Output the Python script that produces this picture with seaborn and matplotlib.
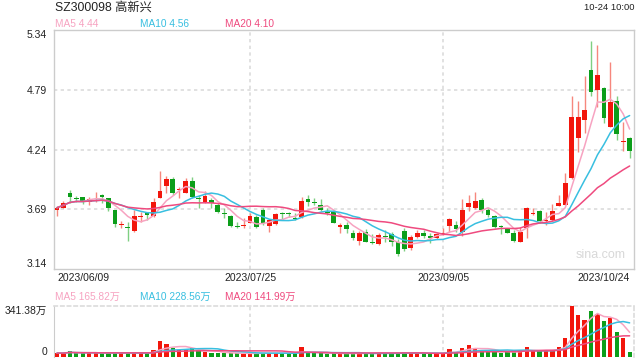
import numpy as np
import pandas as pd
import matplotlib
matplotlib.use("Agg")
import matplotlib.pyplot as plt
import seaborn as sns

# daily OHLC + volume (万), 2023/06/09 .. 2023/10/24
opens = [3.683, 3.704, 3.836, 3.796, 3.799, 3.753, 3.789, 3.818, 3.793, 3.683,
         3.547, 3.529, 3.492, 3.617, 3.652, 3.627, 3.796, 3.904, 3.968, 3.869,
         3.842, 3.950, 3.790, 3.756, 3.775, 3.729, 3.658, 3.627, 3.535, 3.540,
         3.566, 3.615, 3.683, 3.538, 3.554, 3.652, 3.649, 3.612, 3.615, 3.781,
         3.757, 3.726, 3.667, 3.667, 3.529, 3.545, 3.474, 3.400, 3.483, 3.391,
         3.370, 3.443, 3.462, 3.391, 3.492, 3.330, 3.437, 3.474, 3.443, 3.422,
         3.464, 3.535, 3.545, 3.477, 3.713, 3.704, 3.775, 3.683, 3.630, 3.535,
         3.505, 3.474, 3.391, 3.520, 3.648, 3.673, 3.586, 3.591, 3.722, 3.729,
         3.974, 4.349, 4.511, 4.972, 4.788, 4.809, 4.450, 4.689, 4.308, 4.342]
closes = [3.704, 3.750, 3.805, 3.788, 3.759, 3.784, 3.797, 3.799, 3.698, 3.551,
          3.555, 3.518, 3.627, 3.625, 3.635, 3.756, 3.858, 3.968, 3.842, 3.877,
          3.950, 3.799, 3.782, 3.811, 3.744, 3.667, 3.648, 3.538, 3.529, 3.549,
          3.627, 3.529, 3.560, 3.591, 3.646, 3.645, 3.642, 3.600, 3.765, 3.753,
          3.748, 3.683, 3.660, 3.566, 3.545, 3.505, 3.428, 3.474, 3.391, 3.378,
          3.452, 3.433, 3.391, 3.277, 3.320, 3.431, 3.474, 3.443, 3.422, 3.462,
          3.472, 3.600, 3.508, 3.683, 3.750, 3.765, 3.683, 3.637, 3.529, 3.530,
          3.474, 3.400, 3.483, 3.704, 3.656, 3.581, 3.595, 3.673, 3.744, 3.928,
          4.542, 4.542, 4.603, 4.772, 4.926, 4.533, 4.680, 4.382, 4.316, 4.229]
highs = [3.719, 3.765, 3.867, 3.815, 3.805, 3.805, 3.851, 3.830, 3.795, 3.685,
         3.584, 3.569, 3.683, 3.667, 3.667, 3.790, 4.042, 3.996, 3.983, 3.891,
         3.974, 3.983, 3.821, 3.861, 3.796, 3.744, 3.698, 3.637, 3.575, 3.606,
         3.652, 3.637, 3.698, 3.597, 3.658, 3.667, 3.667, 3.652, 3.805, 3.821,
         3.790, 3.781, 3.698, 3.676, 3.566, 3.572, 3.498, 3.492, 3.505, 3.462,
         3.474, 3.498, 3.483, 3.412, 3.514, 3.452, 3.498, 3.498, 3.468, 3.468,
         3.514, 3.606, 3.581, 3.781, 3.821, 3.845, 3.790, 3.698, 3.637, 3.544,
         3.514, 3.498, 3.529, 3.713, 3.698, 3.683, 3.667, 3.738, 3.821, 4.026,
         4.732, 4.686, 4.916, 5.239, 5.202, 4.818, 5.048, 4.732, 4.496, 4.352]
lows = [3.627, 3.698, 3.750, 3.759, 3.735, 3.729, 3.759, 3.750, 3.676, 3.523,
        3.514, 3.400, 3.483, 3.575, 3.591, 3.615, 3.790, 3.836, 3.821, 3.796,
        3.836, 3.790, 3.698, 3.744, 3.704, 3.652, 3.606, 3.529, 3.514, 3.514,
        3.560, 3.514, 3.545, 3.483, 3.545, 3.591, 3.621, 3.591, 3.606, 3.722,
        3.729, 3.673, 3.637, 3.560, 3.468, 3.474, 3.406, 3.360, 3.385, 3.370,
        3.360, 3.391, 3.351, 3.259, 3.308, 3.314, 3.422, 3.422, 3.382, 3.412,
        3.452, 3.483, 3.483, 3.443, 3.676, 3.689, 3.652, 3.621, 3.514, 3.462,
        3.468, 3.391, 3.385, 3.422, 3.637, 3.566, 3.544, 3.584, 3.719, 3.725,
        3.970, 4.220, 4.395, 4.735, 4.628, 4.481, 4.445, 4.327, 4.229, 4.158]
volumes = [26, 26, 40, 26, 26, 27, 28, 25, 26, 30,
           25, 28, 30, 25, 26, 48, 108, 89, 58, 46,
           50, 62, 44, 33, 27, 27, 26, 27, 24, 22,
           23, 26, 29, 26, 27, 27, 20, 26, 64, 33,
           27, 25, 22, 24, 23, 24, 22, 26, 26, 21,
           28, 24, 25, 28, 31, 28, 24, 22, 23, 26,
           24, 55, 36, 62, 78, 55, 50, 34, 32, 30,
           35, 35, 45, 70, 42, 40, 45, 43, 70, 124,
           341.38, 280, 245, 305, 285, 240, 258, 170, 125, 36]

price_ticks = [3.14, 3.69, 4.24, 4.79, 5.34]
date_labels = ["2023/06/09", "2023/07/25", "2023/09/05", "2023/10/24"]
date_pos = [0, 30, 60, 89]
title = "SZ300098 高新兴"
stamp = "10-24 10:00"
ma_text = ["MA5 4.44", "MA10 4.56", "MA20 4.10"]
vma_text = ["MA5 165.82万", "MA10 228.56万", "MA20 141.99万"]

RED, GREEN = "#f2160c", "#0c9e1a"
RED_W, GREEN_W = "#f6877d", "#7fcf82"
MA_COLORS = ["#f7a3c1", "#38bfe0", "#ef4a7f"]
GRID = "#dcdcdc"

sns.set_style("white")
plt.rcParams["font.family"] = ["Liberation Sans", "Noto Sans CJK SC"]

df = pd.DataFrame({"open": opens, "high": highs, "low": lows,
                   "close": closes, "vol": volumes})
df["idx"] = np.arange(len(df))
up = df["close"] >= df["open"]
for n in (5, 10, 20):
    df[f"ma{n}"] = df["close"].rolling(n, min_periods=1).mean()
    df[f"vma{n}"] = df["vol"].rolling(n, min_periods=1).mean()

fig = plt.figure(figsize=(6.4, 3.6), dpi=100)
ax = fig.add_axes([54 / 640, 1 - 269 / 360, 580 / 640, 239 / 360])
axv = fig.add_axes([54 / 640, 1 - 357 / 360, 580 / 640, 51 / 360])
xlim = (-0.47, 89.68)

# candles
ax.vlines(df["idx"], df["low"], df["high"],
          colors=np.where(up, RED_W, GREEN_W), lw=1, zorder=2)
body_h = (df["close"] - df["open"]).abs().clip(lower=0.009)
ax.bar(df["idx"], body_h, bottom=df[["open", "close"]].min(axis=1),
       width=0.74, color=np.where(up, RED, GREEN), lw=0, zorder=3)
for n, c in zip((5, 10, 20), MA_COLORS):
    sns.lineplot(data=df, x="idx", y=f"ma{n}", ax=ax, color=c, lw=1.1, zorder=4)

ax.set_xlim(*xlim)
ax.set_ylim(3.14, 5.34)
ax.set_yticks(price_ticks)
ax.set_yticklabels([f"{t:.2f}" for t in price_ticks])
ylabs = ax.get_yticklabels()
ylabs[0].set_va("bottom")
ylabs[-1].set_va("top")
ax.set_xticks(date_pos)
ax.set_xticklabels(date_labels)
xlabs = ax.get_xticklabels()
xlabs[0].set_ha("left")
xlabs[-1].set_ha("right")
ax.tick_params(axis="y", length=3, color="#555", labelsize=7.5, pad=2, labelcolor="#222")
ax.tick_params(axis="x", length=0, labelsize=7.5, pad=3, labelcolor="#222")
for t in price_ticks[1:-1]:
    ax.axhline(t, color=GRID, lw=1.2, ls=(0, (2, 2)), zorder=1)
for p in date_pos[1:3]:
    ax.axvline(p, color=GRID, lw=1.2, ls=(0, (2, 2)), zorder=1)
for s in ax.spines.values():
    s.set_color("#cccccc")
    s.set_linewidth(1)
ax.set_xlabel("")
ax.set_ylabel("")
ax.text(0.985, 0.035, "sina.com", transform=ax.transAxes, ha="right", va="bottom",
        fontsize=9, color="#d8d8d8")

# volume
axv.bar(df["idx"], df["vol"], width=0.66, color=np.where(up, RED, GREEN), lw=0, zorder=3)
for n, c in zip((5, 10, 20), MA_COLORS):
    sns.lineplot(data=df, x="idx", y=f"vma{n}", ax=axv, color=c, lw=1.1, zorder=4)
axv.set_xlim(*xlim)
axv.set_ylim(0, 341.38)
axv.set_yticks([0, 341.38])
axv.set_yticklabels(["0", "341.38万"])
vlabs = axv.get_yticklabels()
vlabs[0].set_va("bottom")
vlabs[1].set_va("top")
axv.tick_params(axis="y", length=3, color="#555", labelsize=7.5, pad=2, labelcolor="#222")
axv.set_xticks([])
for p in date_pos[1:3]:
    axv.axvline(p, color=GRID, lw=1.2, ls=(0, (2, 2)), zorder=1)
axv.spines["left"].set_color("#cccccc")
axv.spines["bottom"].set_visible(False)
for k in ("top", "right"):
    axv.spines[k].set_color(GRID)
    axv.spines[k].set_linestyle((0, (2, 2)))
    axv.spines[k].set_linewidth(1.2)
axv.set_xlabel("")
axv.set_ylabel("")

# header texts
fig.text(55 / 640, 1 - 8 / 360, title, fontsize=8.8, color="#222", va="center", ha="left")
fig.text(634 / 640, 1 - 8 / 360, stamp, fontsize=6.8, color="#222", va="center", ha="right")
for x, s, c in zip((55, 140, 225), ma_text, MA_COLORS):
    fig.text(x / 640, 1 - 24 / 360, s, fontsize=7.3, color=c, va="center", ha="left")
for x, s, c in zip((55, 140, 225), vma_text, MA_COLORS):
    fig.text(x / 640, 1 - 297 / 360, s, fontsize=7.3, color=c, va="center", ha="left")

fig.savefig("out.png", dpi=100)
